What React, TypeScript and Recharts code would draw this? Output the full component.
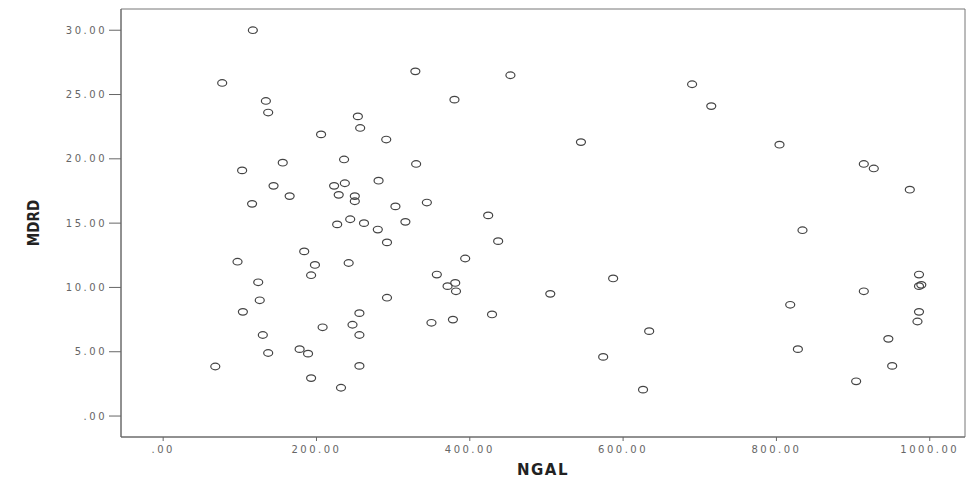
import React from 'react'
import { ScatterChart, Scatter, XAxis, YAxis, ReferenceArea, Label } from 'recharts'

const ngal = [
  68, 77, 117, 103, 116, 134, 137, 144, 156, 165, 206, 184, 97, 124, 126, 104, 130, 137, 198, 193,
  208, 178, 189, 193, 329, 453, 380, 254, 257, 291, 545, 236, 330, 281, 223, 237, 229, 250, 250, 344,
  303, 424, 316, 227, 244, 262, 280, 292, 437, 242, 394, 357, 371, 381, 382, 505, 587, 292, 256, 247,
  256, 350, 378, 429, 256, 232, 574, 626, 634, 690, 715, 804, 914, 927, 974, 834, 986, 986, 989, 914,
  818, 986, 984, 946, 828, 951, 904
]
const mdrd = [
  3.85, 25.9, 30.0, 19.1, 16.5, 24.5, 23.6, 17.9, 19.7, 17.1, 21.9, 12.8, 12.0, 10.4, 9.0, 8.1, 6.3, 4.9, 11.75, 10.95,
  6.9, 5.2, 4.85, 2.95, 26.8, 26.5, 24.6, 23.3, 22.4, 21.5, 21.3, 19.95, 19.6, 18.3, 17.9, 18.1, 17.2, 17.1, 16.7, 16.6,
  16.3, 15.6, 15.1, 14.9, 15.3, 15.0, 14.5, 13.5, 13.6, 11.9, 12.25, 11.0, 10.1, 10.35, 9.7, 9.5, 10.7, 9.2, 8.0, 7.1,
  6.3, 7.25, 7.5, 7.9, 3.9, 2.2, 4.6, 2.05, 6.6, 25.8, 24.1, 21.1, 19.6, 19.25, 17.6, 14.45, 11.0, 10.1, 10.2, 9.7,
  8.65, 8.1, 7.35, 6.0, 5.2, 3.9, 2.7
]
const xTicks = [0, 200, 400, 600, 800, 1000]
const yTicks = [0, 5, 10, 15, 20, 25, 30]

const points = ngal.map((x, i) => ({ ngal: x, mdrd: mdrd[i] }))

const fmt = (v: number) => v.toFixed(2).replace(/^0\./, '.')

const tickStyle = { fontSize: 10, fill: '#666', letterSpacing: 2.5, fontFamily: 'DejaVu Sans' }

function Ring(props: any) {
  const { cx, cy } = props
  return <ellipse cx={cx} cy={cy} rx={4.5} ry={3.3} fill="none" stroke="#444" strokeWidth={1.2} />
}

export default function App() {
  return (
    <div style={{ position: 'absolute', left: 0, top: 0, background: '#fff' }}>
      <ScatterChart width={967} height={483} margin={{ top: 9, right: 2, bottom: 0, left: 0 }}>
        <XAxis
          type="number"
          dataKey="ngal"
          domain={[-55, 1046]}
          ticks={xTicks}
          tickFormatter={fmt}
          height={46}
          stroke="#666"
          tick={tickStyle}
          tickSize={4}
          tickMargin={5}
        >
          <Label value="NGAL" position="insideBottom" offset={8}
            style={{ fontSize: 15, fill: '#222', letterSpacing: 1.5, fontFamily: 'DejaVu Sans', fontWeight: 600 }} />
        </XAxis>
        <YAxis
          type="number"
          dataKey="mdrd"
          domain={[-1.63, 31.65]}
          ticks={yTicks}
          tickFormatter={fmt}
          width={121}
          stroke="#666"
          tick={tickStyle}
          tickSize={12}
          tickMargin={2}
        >
          <Label value="MDRD" angle={-90} position="insideLeft" offset={34}
            style={{ fontSize: 15, fill: '#222', fontFamily: 'DejaVu Sans Condensed', fontWeight: 600, textAnchor: 'middle' }} />
        </YAxis>
        <ReferenceArea x1={-55} x2={1046} y1={-1.63} y2={31.65} fill="none" stroke="#777" strokeWidth={1} />
        <Scatter data={points} shape={Ring} isAnimationActive={false} />
      </ScatterChart>
    </div>
  )
}
